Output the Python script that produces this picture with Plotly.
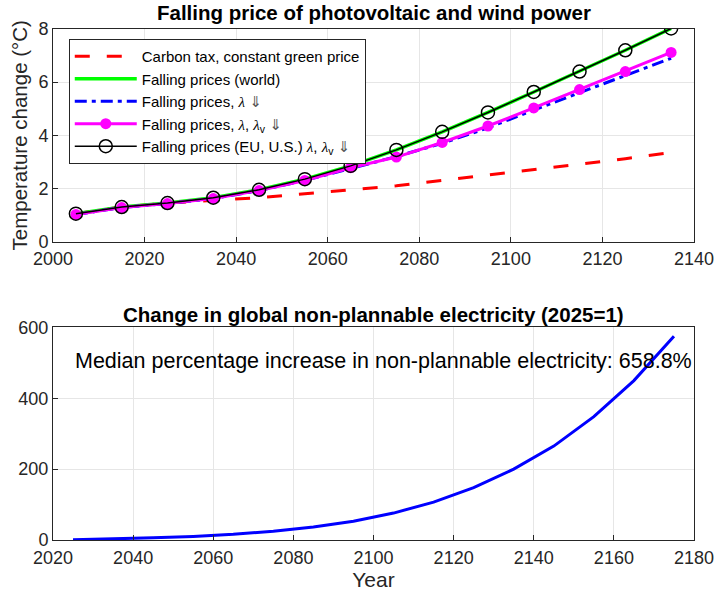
import plotly.graph_objects as go

# ---- data (top panel) ----
years_top = [2005, 2015, 2025, 2035, 2045, 2055, 2065, 2075, 2085, 2095, 2105, 2115, 2125, 2135]
carbon_tax = [1.05, 1.30, 1.45, 1.55, 1.65, 1.80, 1.95, 2.10, 2.30, 2.50, 2.70, 2.92, 3.12, 3.35]
falling_world = [1.05, 1.30, 1.45, 1.65, 1.95, 2.35, 2.85, 3.45, 4.13, 4.86, 5.63, 6.40, 7.20, 8.02]
falling_lambda = [1.02, 1.28, 1.43, 1.62, 1.92, 2.30, 2.75, 3.20, 3.70, 4.28, 4.95, 5.60, 6.25, 6.90]
falling_lambda_v = [1.02, 1.28, 1.43, 1.62, 1.92, 2.30, 2.78, 3.18, 3.73, 4.35, 5.03, 5.72, 6.40, 7.12]
falling_eu_us = [1.05, 1.30, 1.45, 1.65, 1.95, 2.35, 2.85, 3.45, 4.13, 4.86, 5.63, 6.40, 7.20, 8.02]

# ---- data (bottom panel) ----
years_bot = [2025, 2035, 2045, 2055, 2065, 2075, 2085, 2095, 2105, 2115, 2125, 2135, 2145, 2155, 2165, 2175]
nonplannable = [1, 3, 6, 10, 16, 25, 37, 53, 76, 107, 148, 200, 265, 348, 450, 575]

top_xticks = [2000, 2020, 2040, 2060, 2080, 2100, 2120, 2140]
top_yticks = [0, 2, 4, 6, 8]
bot_xticks = [2020, 2040, 2060, 2080, 2100, 2120, 2140, 2160, 2180]
bot_yticks = [0, 200, 400, 600]

FONT = "Liberation Sans"
AXC = "#262626"
GRID = "#e6e6e6"

LAM = "<span style=\"font-family:'Liberation Serif';font-style:italic\">λ</span>"
ARR = "<span style=\"font-family:'DejaVu Sans';color:#555555\">⇓</span>"

fig = go.Figure()

fig.add_trace(go.Scatter(x=years_top, y=carbon_tax, mode="lines",
                         line=dict(color="#ff0000", width=3, dash="15px,17px"),
                         name="Carbon tax, constant green price", xaxis="x", yaxis="y"))
fig.add_trace(go.Scatter(x=years_top, y=falling_world, mode="lines",
                         line=dict(color="#00ff00", width=3.5),
                         name="Falling prices (world)", xaxis="x", yaxis="y"))
fig.add_trace(go.Scatter(x=years_top, y=falling_lambda, mode="lines",
                         line=dict(color="#0000ff", width=3, dash="12px,5px,4px,5px"),
                         name="Falling prices, " + LAM + " " + ARR, xaxis="x", yaxis="y"))
fig.add_trace(go.Scatter(x=years_top, y=falling_lambda_v, mode="lines+markers",
                         line=dict(color="#ff00ff", width=3),
                         marker=dict(color="#ff00ff", size=11, symbol="circle"),
                         name="Falling prices, " + LAM + ", " + LAM + "<sub>v</sub> " + ARR,
                         xaxis="x", yaxis="y"))
fig.add_trace(go.Scatter(x=years_top, y=falling_eu_us, mode="lines+markers",
                         line=dict(color="#000000", width=1.5),
                         marker=dict(color="#000000", size=13, symbol="circle-open",
                                     line=dict(color="#000000", width=1.5)),
                         name="Falling prices (EU, U.S.) " + LAM + ", " + LAM + "<sub>v</sub> " + ARR,
                         xaxis="x", yaxis="y"))

fig.add_trace(go.Scatter(x=years_bot, y=nonplannable, mode="lines",
                         line=dict(color="#0000ff", width=3),
                         showlegend=False, xaxis="x2", yaxis="y2"))

axis_common = dict(showline=True, mirror=True, linecolor=AXC, linewidth=1,
                   ticks="inside", ticklen=5, tickcolor=AXC,
                   showgrid=True, gridcolor=GRID, gridwidth=1, zeroline=False,
                   tickfont=dict(family=FONT, size=18, color=AXC))

fig.update_layout(
    width=726, height=595,
    margin=dict(l=53, r=22, t=29, b=54),
    paper_bgcolor="white", plot_bgcolor="white",
    font=dict(family=FONT, color=AXC),
    showlegend=True,
    legend=dict(x=0.0246, y=0.9805, xanchor="left", yanchor="top",
                bgcolor="white", bordercolor=AXC, borderwidth=1,
                font=dict(family=FONT, size=15, color="#000000"),
                itemwidth=62, tracegroupgap=0),
    xaxis=dict(domain=[0, 1], anchor="y", range=[2000, 2140], tickvals=top_xticks,
               ticklabelstandoff=1, **axis_common),
    yaxis=dict(domain=[0.584, 1], anchor="x", range=[0, 8], tickvals=top_yticks,
               title=dict(text="Temperature change (°C)", font=dict(family=FONT, size=20.5, color=AXC), standoff=5),
               **axis_common),
    xaxis2=dict(domain=[0, 1], anchor="y2", range=[2020, 2180], tickvals=bot_xticks,
                ticklabelstandoff=1,
                title=dict(text="Year", font=dict(family=FONT, size=21, color=AXC), standoff=1),
                **axis_common),
    yaxis2=dict(domain=[0, 0.416], anchor="x2", range=[0, 600], tickvals=bot_yticks, **axis_common),
    annotations=[
        dict(text="<b>Falling price of photovoltaic and wind power</b>", xref="paper", yref="paper",
             x=0.5, y=1.0332, xanchor="center", yanchor="middle", showarrow=False,
             font=dict(family=FONT, size=20.5, color="#000000")),
        dict(text="<b>Change in global non-plannable electricity (2025=1)</b>", xref="paper", yref="paper",
             x=0.5, y=0.4414, xanchor="center", yanchor="middle", showarrow=False,
             font=dict(family=FONT, size=20.5, color="#000000")),
        dict(text="Median percentage increase in non-plannable electricity: 658.8%", xref="x2", yref="y2",
             x=2025, y=504, xanchor="left", yanchor="middle", showarrow=False,
             font=dict(family=FONT, size=21.5, color="#000000")),
    ],
)

fig.write_html("out.html")
